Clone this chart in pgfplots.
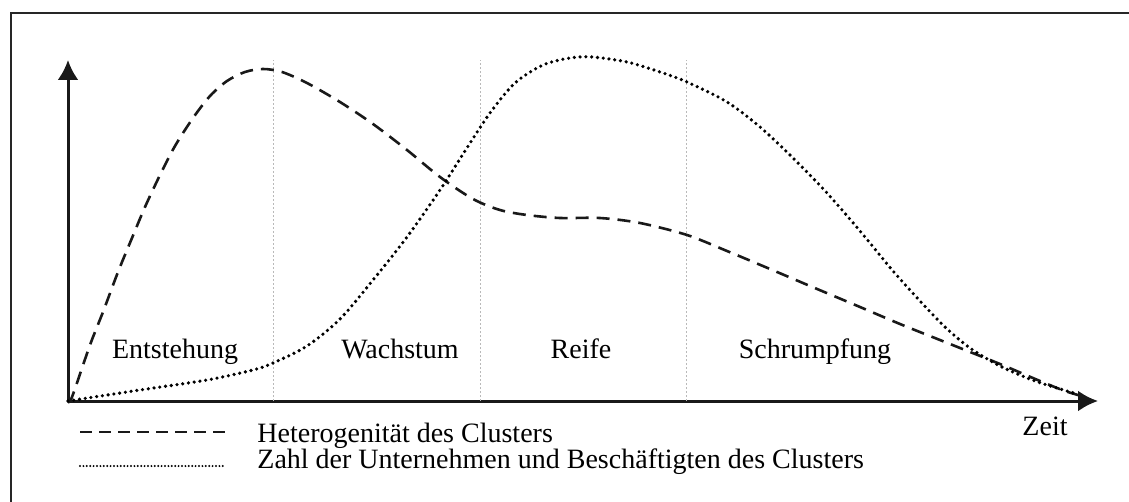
\documentclass[border=0pt]{standalone}
\usepackage{pgfplots}
\pgfplotsset{compat=1.18}
\usetikzlibrary{arrows.meta}
\usepackage{fontspec}
\setmainfont{Liberation Serif}
\newcommand{\lf}{\fontsize{14}{16}\selectfont}
\begin{document}
\begin{tikzpicture}[x=0.5pt,y=-0.5pt]
\useasboundingbox (0,0) rectangle (1129,502);
\draw[line width=1pt, black!85] (11,502) -- (11,13) -- (1129,13);
\begin{axis}[
  at={(34pt,-200.5pt)}, anchor=south west,
  scale only axis, width=515pt, height=170.5pt,
  xmin=68, xmax=1098, ymin=0, ymax=341,
  axis lines=left,
  axis line style={line width=1.5pt, black!90, -{Latex[length=10pt,width=10.5pt]}},
  xtick=\empty, ytick=\empty,
  clip=false,
]
% phase separators
\addplot[gray!55, line width=0.5pt, dash pattern=on 1pt off 1pt] coordinates {(273,0) (273,341)};
\addplot[gray!55, line width=0.5pt, dash pattern=on 1pt off 1pt] coordinates {(480,0) (480,341)};
\addplot[gray!55, line width=0.5pt, dash pattern=on 1pt off 1pt] coordinates {(686,0) (686,341)};
% Heterogenitaet (dashed)
\addplot[smooth, black!90, line width=1.3pt, dash pattern=on 6.5pt off 4pt] coordinates {
(68,0) (72,4) (90,56) (103,89) (118,129) (132,163) (145,194) (160,226)
(175,255) (193,283) (210,305) (227,320) (245,329) (263,332) (282,329)
(307,318) (340,299) (373,277) (407,251) (440,224) (473,202) (500,191)
(527,186) (560,183) (600,183) (640,178) (687,166) (727,150) (770,132)
(810,115) (860,94) (900,77) (950,57) (1000,37) (1040,20) (1065,10) (1085,4)};
% Zahl der Unternehmen (dotted)
\addplot[smooth, black, line width=1.8pt, line cap=round, dash pattern=on 0pt off 2.9pt] coordinates {
(68,0) (140,11) (207,21) (253,31) (273,38) (307,55) (340,82) (373,121)
(407,164) (440,211) (465,250) (490,288) (515,318) (543,336) (570,343)
(592,344) (627,339) (660,329) (687,319) (727,299) (760,274) (793,243)
(827,208) (860,170) (893,130) (920,100) (945,74) (970,53) (1000,35)
(1035,20) (1077,7)};
\node[anchor=base, inner sep=0, font=\lf] at (axis cs:175,43) {Entstehung};
\node[anchor=base, inner sep=0, font=\lf] at (axis cs:400,43) {Wachstum};
\node[anchor=base, inner sep=0, font=\lf] at (axis cs:581,43) {Reife};
\node[anchor=base, inner sep=0, font=\lf] at (axis cs:815,43) {Schrumpfung};
\end{axis}
\draw[black!90, line width=1.2pt, dash pattern=on 6pt off 3.5pt] (80,432) -- (225,432);
\node[anchor=base west, inner sep=0, font=\lf] at (257,442) {Heterogenität des Clusters};
\draw[black, line width=1.1pt, line cap=round, dash pattern=on 0pt off 1.7pt] (80,466) -- (225,466);
\node[anchor=base west, inner sep=0, font=\lf] at (257,468) {Zahl der Unternehmen und Beschäftigten des Clusters};
\node[anchor=base, inner sep=0, font=\lf] at (1045,435) {Zeit};
\end{tikzpicture}
\end{document}
